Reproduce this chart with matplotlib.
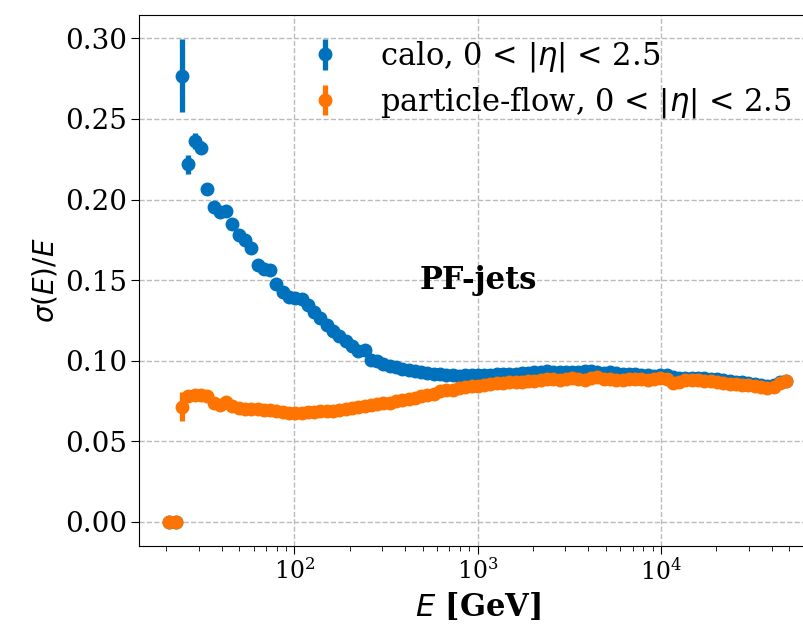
import numpy as np
import matplotlib
matplotlib.use("Agg")
import matplotlib.pyplot as plt

plt.rcParams["font.family"] = "serif"
plt.rcParams["mathtext.fontset"] = "dejavusans"

# energy binning (GeV): 100 log-spaced edges -> 99 bins
bin_edges = np.geomspace(20.0, 5.0e4, 100)
energy = np.sqrt(bin_edges[:-1] * bin_edges[1:])

calo_res = [
    0.0, 0.0, 0.2768, 0.2219, 0.2365, 0.2322, 0.2068, 0.1953, 0.1925, 0.1931,
    0.1849, 0.1781, 0.1750, 0.1698, 0.1595, 0.1568, 0.1560, 0.1477, 0.1429, 0.1398,
    0.1388, 0.1382, 0.1347, 0.1305, 0.1264, 0.1223, 0.1181, 0.1150, 0.1119, 0.1088,
    0.1057, 0.1064, 0.1006, 0.0995, 0.0980, 0.0970, 0.0960, 0.0950, 0.0942, 0.0935,
    0.0930, 0.0925, 0.0920, 0.0915, 0.0912, 0.0912, 0.0906, 0.0910, 0.0908, 0.0910,
    0.0912, 0.0910, 0.0915, 0.0918, 0.0915, 0.0920, 0.0924, 0.0925, 0.0928, 0.0930,
    0.0934, 0.0932, 0.0930, 0.0928, 0.0930, 0.0928, 0.0935, 0.0938, 0.0932, 0.0926,
    0.0928, 0.0922, 0.0920, 0.0916, 0.0915, 0.0911, 0.0910, 0.0906, 0.0908, 0.0910,
    0.0897, 0.0892, 0.0894, 0.0895, 0.0892, 0.0890, 0.0886, 0.0885, 0.0878, 0.0872,
    0.0870, 0.0865, 0.0860, 0.0855, 0.0848, 0.0845, 0.0850, 0.0868, 0.0875,
]

pf_res = [
    0.0, 0.0, 0.0713, 0.0778, 0.0789, 0.0789, 0.0783, 0.0737, 0.0727, 0.0744,
    0.0717, 0.0707, 0.0703, 0.0700, 0.0697, 0.0695, 0.0693, 0.0688, 0.0684, 0.0678,
    0.0676, 0.0678, 0.0680, 0.0683, 0.0685, 0.0688, 0.0690, 0.0695, 0.0703, 0.0708,
    0.0712, 0.0718, 0.0723, 0.0730, 0.0735, 0.0740, 0.0750, 0.0758, 0.0765, 0.0770,
    0.0780, 0.0788, 0.0795, 0.0810, 0.0815, 0.0820, 0.0828, 0.0835, 0.0840, 0.0845,
    0.0850, 0.0855, 0.0860, 0.0862, 0.0866, 0.0870, 0.0868, 0.0872, 0.0875, 0.0880,
    0.0885, 0.0888, 0.0883, 0.0887, 0.0890, 0.0885, 0.0880, 0.0892, 0.0900, 0.0885,
    0.0887, 0.0882, 0.0880, 0.0885, 0.0888, 0.0885, 0.0882, 0.0885, 0.0893, 0.0888,
    0.0862, 0.0870, 0.0878, 0.0882, 0.0880, 0.0875, 0.0872, 0.0868, 0.0862, 0.0858,
    0.0855, 0.0852, 0.0848, 0.0845, 0.0838, 0.0832, 0.0835, 0.0862, 0.0875,
]

calo_err = [
    0.0, 0.0, 0.0228, 0.0060, 0.0050, 0.0042, 0.0036, 0.0031, 0.0027, 0.0024,
    0.0021, 0.0019, 0.0017, 0.0015, 0.0014, 0.0013, 0.0012, 0.0011, 0.0010, 0.0009,
    0.0009, 0.0008, 0.0008, 0.0007, 0.0007, 0.0006, 0.0006, 0.0006, 0.0005, 0.0005,
    0.0005, 0.0005, 0.0004, 0.0004, 0.0004, 0.0004, 0.0004, 0.0004, 0.0003, 0.0003,
    0.0003, 0.0003, 0.0003, 0.0003, 0.0003, 0.0003, 0.0003, 0.0003, 0.0003, 0.0003,
    0.0003, 0.0003, 0.0003, 0.0003, 0.0003, 0.0003, 0.0003, 0.0003, 0.0003, 0.0003,
    0.0003, 0.0003, 0.0003, 0.0003, 0.0003, 0.0003, 0.0003, 0.0003, 0.0003, 0.0003,
    0.0003, 0.0003, 0.0003, 0.0003, 0.0003, 0.0003, 0.0003, 0.0003, 0.0003, 0.0003,
    0.0003, 0.0003, 0.0003, 0.0003, 0.0003, 0.0003, 0.0003, 0.0003, 0.0003, 0.0003,
    0.0004, 0.0004, 0.0004, 0.0004, 0.0005, 0.0005, 0.0006, 0.0007, 0.0008,
]

pf_err = [
    0.0, 0.0, 0.0090, 0.0025, 0.0020, 0.0017, 0.0015, 0.0013, 0.0011, 0.0010,
    0.0009, 0.0008, 0.0007, 0.0007, 0.0006, 0.0006, 0.0005, 0.0005, 0.0005, 0.0004,
    0.0004, 0.0004, 0.0004, 0.0004, 0.0003, 0.0003, 0.0003, 0.0003, 0.0003, 0.0003,
    0.0003, 0.0003, 0.0003, 0.0003, 0.0003, 0.0003, 0.0003, 0.0003, 0.0003, 0.0003,
    0.0003, 0.0003, 0.0003, 0.0003, 0.0003, 0.0003, 0.0003, 0.0003, 0.0003, 0.0003,
    0.0003, 0.0003, 0.0003, 0.0003, 0.0003, 0.0003, 0.0003, 0.0003, 0.0003, 0.0003,
    0.0003, 0.0003, 0.0003, 0.0003, 0.0003, 0.0003, 0.0003, 0.0003, 0.0003, 0.0003,
    0.0003, 0.0003, 0.0003, 0.0003, 0.0003, 0.0003, 0.0003, 0.0003, 0.0003, 0.0003,
    0.0003, 0.0003, 0.0003, 0.0003, 0.0003, 0.0003, 0.0003, 0.0003, 0.0003, 0.0003,
    0.0004, 0.0004, 0.0004, 0.0004, 0.0005, 0.0005, 0.0006, 0.0007, 0.0008,
]

labels = [r"calo, 0 < $|\eta|$ < 2.5", r"particle-flow, 0 < $|\eta|$ < 2.5"]
colors = ["#0072bd", "#ff7400"]

fig = plt.figure(figsize=(8.04, 6.24), dpi=100)
ax = fig.add_axes([0.1733, 0.125, 0.8423, 0.851])

for res, err, lab, col in zip([calo_res, pf_res], [calo_err, pf_err], labels, colors):
    ax.errorbar(energy, res, yerr=err, fmt="o", color=col, markersize=9,
                elinewidth=3.8, capsize=0, label=lab)

ax.set_xscale("log")
ax.set_xlim(14.25, 7.04e4)
ax.set_ylim(-0.015, 0.3145)
ax.set_yticks([0.0, 0.05, 0.10, 0.15, 0.20, 0.25, 0.30])
ax.yaxis.set_major_formatter(matplotlib.ticker.FormatStrFormatter("%.2f"))
ax.tick_params(axis="both", which="major", length=5.5)
ax.tick_params(axis="both", which="minor", length=3.5)
ax.tick_params(axis="y", which="major", labelsize=20)
ax.tick_params(axis="x", which="major", labelsize=17)
ax.grid(True, which="major", linestyle="--", color="#bbbbbb", linewidth=1.0)
ax.spines["right"].set_visible(False)

ax.set_xlabel(r"$E$ [GeV]", fontsize=22, fontweight="bold")
ax.set_ylabel(r"$\sigma(E)/E$", fontsize=20)
ax.text(0.5, 0.5, "PF-jets", transform=ax.transAxes, ha="center", va="center",
        fontsize=22, fontweight="bold")
ax.legend(loc="upper right", frameon=False, fontsize=22, labelspacing=0.35,
          borderaxespad=0.4)

fig.savefig("out.png", dpi=100)
